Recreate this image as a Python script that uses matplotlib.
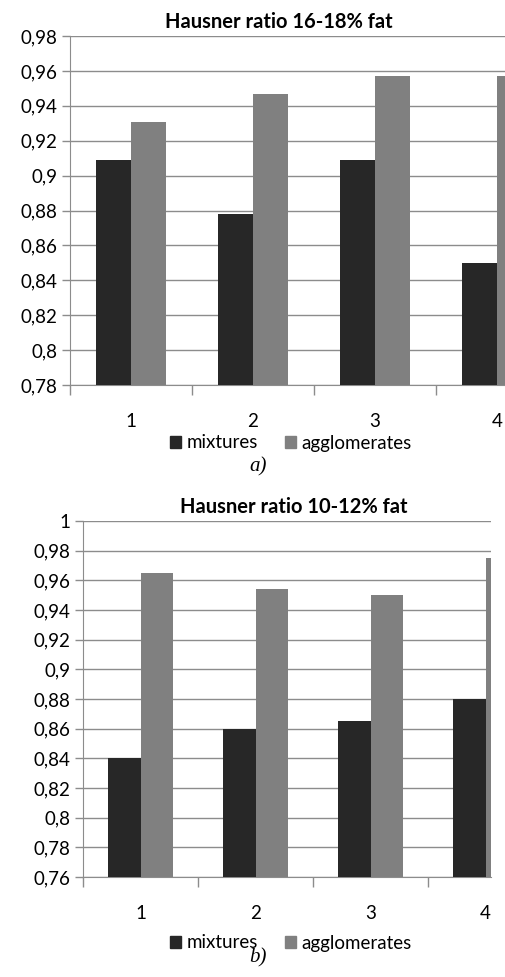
import matplotlib.pyplot as plt
import matplotlib.ticker as mticker
from matplotlib.patches import Patch

plt.rcParams['font.family'] = ['Lato', 'DejaVu Sans']

# data
categories = ['1', '2', '3', '4']
series_names = ['mixtures', 'agglomerates']
mix_a = [0.909, 0.878, 0.909, 0.850]
agg_a = [0.931, 0.947, 0.957, 0.957]
mix_b = [0.840, 0.860, 0.865, 0.880]
agg_b = [0.965, 0.954, 0.950, 0.975]
title_a = 'Hausner ratio 16-18% fat'
title_b = 'Hausner ratio 10-12% fat'

dark = '#272727'
light = '#808080'
grid_c = '#8c8c8c'
bw = 0.286


def comma(v, pos):
    s = ('%.2f' % v).rstrip('0').rstrip('.')
    return s.replace('.', ',')


def draw(ax, mix, agg, ylo, yhi, xhi, title):
    x = range(len(categories))
    ax.bar([i - bw / 2 for i in x], mix, bw, color=dark, zorder=3)
    ax.bar([i + bw / 2 for i in x], agg, bw, color=light, zorder=3)
    ax.yaxis.set_major_locator(mticker.MultipleLocator(0.02))
    ax.yaxis.set_major_formatter(mticker.FuncFormatter(comma))
    ax.grid(axis='y', color=grid_c, linewidth=1, zorder=0)
    ax.set_xticks(list(x))
    ax.set_xticklabels(categories)
    ax.set_xticks([i + 0.5 for i in range(-1, len(categories))], minor=True)
    # limits after the ticks, otherwise set_xticks widens them again
    ax.set_ylim(ylo, yhi)
    ax.set_xlim(-0.5, xhi)
    ax.tick_params(axis='x', which='major', length=0, pad=20, labelsize=13.5)
    ax.tick_params(axis='x', which='minor', length=7, color=grid_c, width=1)
    ax.tick_params(axis='y', length=6, color=grid_c, width=1, labelsize=13.5, pad=3)
    for s in ['top', 'right']:
        ax.spines[s].set_visible(False)
    for s in ['left', 'bottom']:
        ax.spines[s].set_color(grid_c)
    ax.set_title(title, fontsize=14.5, fontweight='bold', pad=6)


fig = plt.figure(figsize=(5.05, 9.77), dpi=100)

ax1 = fig.add_axes([70 / 505, 1 - 385 / 977, 435 / 505, 349 / 977])
draw(ax1, mix_a, agg_a, 0.78, 0.98, (505 - 70) / 122 - 0.5, title_a)
ax1.title.set_position((209 / 435, 1))

ax2 = fig.add_axes([83 / 505, 1 - 877 / 977, 408 / 505, 356 / 977])
draw(ax2, mix_b, agg_b, 0.76, 1.0, (491 - 83) / 115 - 0.5, title_b)
ax2.title.set_position((211 / 408, 1))

handles = [Patch(color=dark), Patch(color=light)]
for yy in [1 - 443 / 977, 1 - 943 / 977]:
    fig.legend(handles, series_names, loc='center', bbox_to_anchor=(291 / 505, yy),
               ncol=2, frameon=False, fontsize=13.5, handlelength=0.6,
               handleheight=0.6, handletextpad=0.3, columnspacing=1.4,
               borderpad=0)

fig.text(258 / 505, 1 - 467 / 977, 'a)', family='Liberation Serif', style='italic',
         fontsize=15, ha='center', va='center')
fig.text(258 / 505, 1 - 958 / 977, 'b)', family='Liberation Serif', style='italic',
         fontsize=15, ha='center', va='center')

fig.savefig('out.png', dpi=100)
